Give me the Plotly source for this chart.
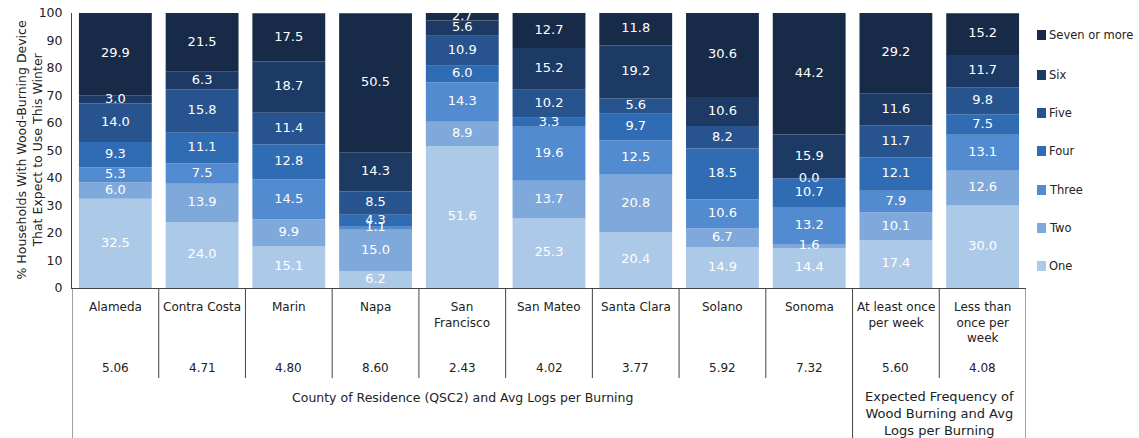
import plotly.graph_objects as go
import numpy as np

categories = ["Alameda", "Contra Costa", "Marin", "Napa", "San<br>Francisco", "San Mateo",
              "Santa Clara", "Solano", "Sonoma", "At least once<br>per week", "Less than<br>once per<br>week"]
avg_logs = ["5.06", "4.71", "4.80", "8.60", "2.43", "4.02", "3.77", "5.92", "7.32", "5.60", "4.08"]

series_names = ["One", "Two", "Three", "Four", "Five", "Six", "Seven or more"]
one   = [32.5, 24.0, 15.1, 6.2, 51.6, 25.3, 20.4, 14.9, 14.4, 17.4, 30.0]
two   = [6.0, 13.9, 9.9, 15.0, 8.9, 13.7, 20.8, 6.7, 1.6, 10.1, 12.6]
three = [5.3, 7.5, 14.5, 1.1, 14.3, 19.6, 12.5, 10.6, 13.2, 7.9, 13.1]
four  = [9.3, 11.1, 12.8, 4.3, 6.0, 3.3, 9.7, 18.5, 10.7, 12.1, 7.5]
five  = [14.0, 15.8, 11.4, 8.5, 10.9, 10.2, 5.6, 8.2, 0.0, 11.7, 9.8]
six   = [3.0, 6.3, 18.7, 14.3, 5.6, 15.2, 19.2, 10.6, 15.9, 11.6, 11.7]
seven = [29.9, 21.5, 17.5, 50.5, 2.7, 12.7, 11.8, 30.6, 44.2, 29.2, 15.2]

group_labels = ["County of Residence (QSC2) and Avg Logs per Burning",
                "Expected Frequency of<br>Wood Burning and Avg<br>Logs per Burning"]

colors = ["#ADC9E8", "#80A9DB", "#538BD0", "#2F6CB4", "#27548E", "#1C3A63", "#172B48"]
FONT = "DejaVu Sans"
TXT = "#222222"
LINE = "#444444"

series = [one, two, three, four, five, six, seven]
x = list(range(len(categories)))

fig = go.Figure()
base = np.zeros(len(categories))
for name, vals, col in zip(series_names, series, colors):
    v = np.array(vals)
    fig.add_trace(go.Bar(x=x, y=v, base=base, name=name, marker=dict(color=col, line=dict(width=0)),
                         width=0.84, showlegend=False, hoverinfo="skip"))
    mids = base + v / 2
    fig.add_trace(go.Scatter(x=x, y=mids, mode="text", text=[f"{t:.1f}" for t in v],
                             textfont=dict(color="white", size=13, family=FONT),
                             showlegend=False, hoverinfo="skip"))
    base = base + v

fig.update_layout(
    width=1139, height=438,
    margin=dict(l=72, r=113, t=13, b=150, autoexpand=False),
    barmode="overlay",
    plot_bgcolor="white", paper_bgcolor="white",
    font=dict(family=FONT, color=TXT, size=12),
    xaxis=dict(range=[-0.5, 10.5], showticklabels=False, showgrid=False, zeroline=False,
               showline=True, linecolor=LINE, linewidth=1, ticks="", automargin=False),
    yaxis=dict(range=[0, 100], dtick=10, showgrid=False, zeroline=False, showline=True,
               linecolor=LINE, linewidth=1, ticks="", ticklabelstandoff=6, automargin=False,
               ticklabeloverflow="allow",
               tickfont=dict(size=12.5, family=FONT, color=TXT)),
)

H = 275.0
def py(p):
    return (288 - p) / H

shapes = []
annotations = []
# table vertical lines
for b in range(12):
    xb = b - 0.5
    bottom = py(445) if b in (0, 9, 11) else py(378)
    shapes.append(dict(type="line", xref="x", yref="paper", x0=xb, x1=xb, y0=0, y1=bottom,
                       line=dict(color=LINE, width=1)))

for i, (c, v) in enumerate(zip(categories, avg_logs)):
    annotations.append(dict(x=i, y=py(298), xref="x", yref="paper", text=c, showarrow=False,
                            yanchor="top", xanchor="center", font=dict(size=12, family=FONT, color=TXT)))
    annotations.append(dict(x=i, y=py(368), xref="x", yref="paper", text=v, showarrow=False,
                            yanchor="middle", xanchor="center", font=dict(size=12, family=FONT, color=TXT)))

annotations.append(dict(x=4, y=py(397), xref="x", yref="paper", text=group_labels[0], showarrow=False,
                        yanchor="middle", xanchor="center", font=dict(size=12.5, family=FONT, color=TXT)))
annotations.append(dict(x=9.5, y=py(387), xref="x", yref="paper", text=group_labels[1], showarrow=False,
                        yanchor="top", xanchor="center", font=dict(size=13, family=FONT, color=TXT)))

# y-axis title
annotations.append(dict(x=-43 / 954, y=0.5, xref="paper", yref="paper",
                        text="% Households With Wood-Burning Device<br>That Expect to Use This Winter",
                        textangle=-90, showarrow=False, xanchor="center", yanchor="middle",
                        font=dict(size=12.5, family=FONT, color=TXT)))

# legend
leg_y = [35, 75, 113, 151, 190, 228, 266]
for name, col, yy in zip(series_names[::-1], colors[::-1], leg_y):
    x0 = (1037 - 72) / 954
    x1 = (1046 - 72) / 954
    shapes.append(dict(type="rect", xref="paper", yref="paper", x0=x0, x1=x1,
                       y0=py(yy + 5), y1=py(yy - 5), fillcolor=col, line=dict(width=0)))
    annotations.append(dict(x=(1047 - 72) / 954, y=py(yy), xref="paper", yref="paper", text=name,
                            showarrow=False, xanchor="left", yanchor="middle",
                            font=dict(size=11.5, family=FONT, color=TXT)))

fig.update_layout(shapes=shapes, annotations=annotations)
fig.write_html("out.html", config={"displayModeBar": False},
               post_script="document.body.style.margin='0px';")
